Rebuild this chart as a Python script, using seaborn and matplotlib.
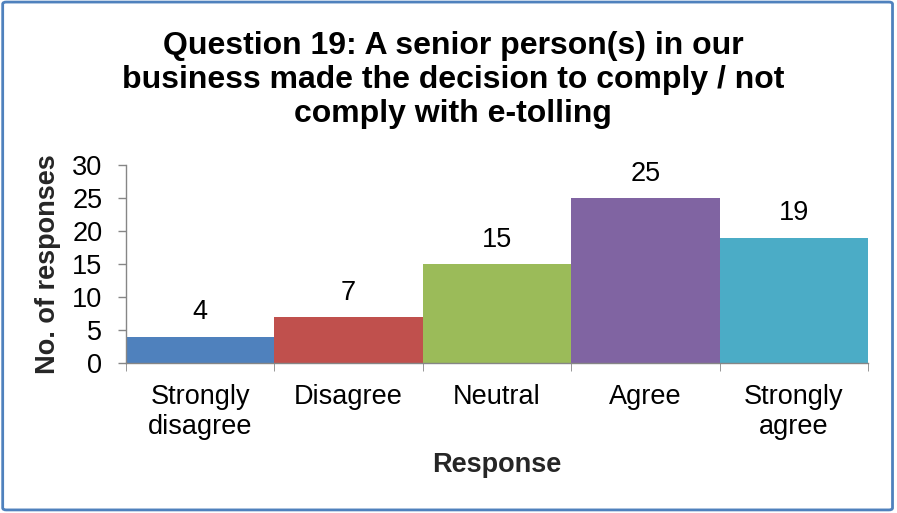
import matplotlib
matplotlib.use("Agg")
import matplotlib.pyplot as plt
import seaborn as sns
import pandas as pd
from matplotlib.patches import FancyBboxPatch

# data
responses = ["Strongly\ndisagree", "Disagree", "Neutral", "Agree", "Strongly\nagree"]
counts = [4, 7, 15, 25, 19]
colors = ["#4F81BD", "#C0504D", "#9BBB59", "#8064A2", "#4BACC6"]
yticks = [0, 5, 10, 15, 20, 25, 30]

sns.set_style("white")
plt.rcParams["font.family"] = ["Liberation Sans", "DejaVu Sans"]
plt.rcParams["text.color"] = "black"
plt.rcParams["xtick.color"] = "black"
plt.rcParams["ytick.color"] = "black"

df = pd.DataFrame({"Response": responses, "Count": counts})

fig = plt.figure(figsize=(8.97, 5.13), dpi=100)
ax = fig.add_axes([0.1405, 0.2924, 0.9677 - 0.1405, 0.6784 - 0.2924])

sns.barplot(data=df, x="Response", y="Count", hue="Response", palette=colors,
            width=1.0, legend=False, saturation=1, linewidth=0, ax=ax)

for cont in ax.containers:
    ax.bar_label(cont, padding=8, fontsize=19.5)

ax.set_xlim(-0.5, len(responses) - 0.5)
ax.set_ylim(0, 30)
ax.set_yticks(yticks)
ax.tick_params(axis="y", labelsize=19.5, length=6, width=1, color="#868686",
               direction="out", left=True, pad=11)
ax.tick_params(axis="x", labelsize=19.5, length=0, pad=15)
ax.set_xticks([i - 0.5 for i in range(len(responses) + 1)], minor=True)
ax.tick_params(axis="x", which="minor", length=6, color="#868686", bottom=True)
for lab in ax.get_xticklabels():
    lab.set_linespacing(1.2)

for s in ["top", "right"]:
    ax.spines[s].set_visible(False)
for s in ["left", "bottom"]:
    ax.spines[s].set_color("#868686")
    ax.spines[s].set_linewidth(1)

ax.set_xlabel("Response", fontsize=19.5, fontweight="bold", labelpad=9)
ax.set_ylabel("No. of responses", fontsize=19.5, fontweight="bold", labelpad=8)

fig.text(0.505, 0.844,
         "Question 19: A senior person(s) in our\nbusiness made the decision to comply / not\ncomply with e-tolling",
         ha="center", va="center", fontsize=23, fontweight="bold", linespacing=1.18)

# chart border
border = FancyBboxPatch((0.003, 0.006), 0.992, 0.99, boxstyle="round,pad=0,rounding_size=0.004",
                        transform=fig.transFigure, fill=False, edgecolor="#4F81BD", linewidth=2)
fig.patches.append(border)

fig.savefig("out.png", dpi=100)
